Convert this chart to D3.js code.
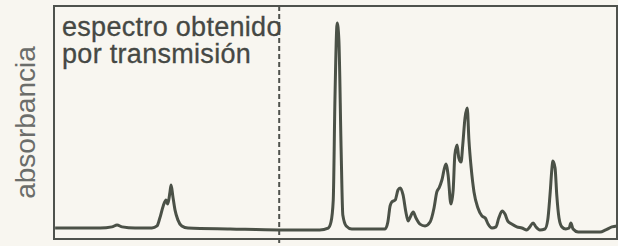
<!DOCTYPE html>
<html>
<head>
<meta charset="utf-8">
<script src="https://cdn.jsdelivr.net/npm/d3@7"></script>
<style>
  html, body { margin: 0; padding: 0; background: #f8f6f0; }
  svg { display: block; }
</style>
</head>
<body>
<div id="chart"></div>
<script>
// relative position along the spectrum (0-100) and absorbance (%)
var position = [0.2, 8.2, 10.3, 11.2, 12.1, 14.4, 17.4, 18.3, 18.8, 19.4,
  19.9, 20.2, 20.6, 20.8, 21.1, 21.5, 22.0, 22.7, 23.8, 31.3,
  40.1, 47.2, 48.7, 49.2, 49.6, 49.9, 50.3, 50.6, 51.0, 51.3,
  51.9, 52.9, 58.8, 59.3, 59.7, 60.0, 60.6, 61.1, 61.5, 62.0,
  62.5, 62.9, 63.2, 63.8, 64.3, 65.0, 65.9, 66.8, 67.5, 68.0,
  68.4, 68.9, 69.6, 70.0, 70.5, 70.9, 71.2, 71.6, 71.9, 72.3,
  72.6, 73.0, 73.4, 73.7, 74.1, 74.6, 75.3, 76.0, 76.6, 77.1,
  77.8, 78.5, 79.0, 79.6, 80.1, 80.6, 81.3, 82.2, 83.1, 84.0,
  84.5, 85.1, 85.6, 86.3, 87.2, 87.7, 88.1, 88.5, 88.6, 89.0,
  89.3, 89.7, 90.2, 90.9, 91.5, 91.8, 92.2, 93.1, 97.0, 98.0,
  99.1, 100];

var absorbance = [4.7, 4.7, 5.2, 6.0, 5.2, 4.7, 4.7, 5.6, 9.0, 14.2,
  16.7, 15.0, 20.2, 23.2, 18.5, 12.4, 8.2, 5.6, 4.7, 4.3,
  3.9, 3.9, 4.7, 7.3, 16.7, 59.7, 92.7, 85.4, 38.2, 10.3,
  5.6, 4.3, 4.3, 7.3, 14.2, 15.9, 16.7, 21.0, 21.9, 18.9,
  11.6, 7.7, 9.0, 11.6, 9.0, 6.4, 5.6, 7.3, 13.3, 20.2,
  21.9, 25.3, 32.2, 27.5, 15.0, 21.0, 36.1, 40.3, 34.8, 33.0,
  40.3, 51.9, 56.2, 42.5, 30.5, 20.2, 13.3, 9.9, 9.0, 6.4,
  4.7, 5.2, 9.0, 12.0, 10.7, 7.7, 6.4, 5.2, 4.7, 3.9,
  5.2, 6.9, 5.2, 3.9, 4.3, 8.2, 18.9, 31.8, 33.5, 30.5,
  18.9, 9.0, 5.2, 4.3, 4.7, 6.9, 4.3, 3.0, 3.0, 3.9,
  5.2, 5.6];

var transmissionLimit = 40.0;
var labelLines = ["espectro obtenido", "por transmisión"];
var yLabel = "absorbancia";

var width = 618, height = 246;
var margin = {top: 6, right: 1, bottom: 7, left: 54};

var svg = d3.select("#chart").append("svg")
  .attr("width", width)
  .attr("height", height);

var x = d3.scaleLinear().domain([0, 100]).range([margin.left, width - margin.right]);
var y = d3.scaleLinear().domain([0, 100]).range([height - margin.bottom, margin.top]);

var points = d3.zip(position, absorbance);

// frame
svg.append("rect")
  .attr("x", x(0))
  .attr("y", y(100))
  .attr("width", x(100) - x(0))
  .attr("height", y(0) - y(100))
  .style("fill", "none")
  .style("stroke", "#4f524d")
  .style("stroke-width", 2);

// dashed separator
svg.append("line")
  .attr("x1", x(transmissionLimit)).attr("x2", x(transmissionLimit))
  .attr("y1", y(100)).attr("y2", y(0) + 6)
  .style("stroke", "#4f524d")
  .style("stroke-width", 2)
  .style("stroke-dasharray", "5,3");

// spectrum
var line = d3.line()
  .x(function(d) { return x(d[0]); })
  .y(function(d) { return y(d[1]); })
  .curve(d3.curveMonotoneX);

svg.append("path")
  .datum(points)
  .attr("d", line)
  .style("fill", "none")
  .style("stroke", "#4b5147")
  .style("stroke-width", 3)
  .style("stroke-linejoin", "round");

// label
svg.append("g").selectAll("text")
  .data(labelLines)
  .enter()
  .append("text")
  .attr("x", x(0) + 8)
  .attr("y", function(d, i) { return 36 + i * 27; })
  .style("font-family", "'Liberation Sans', Arial, sans-serif")
  .style("font-size", "27px")
  .style("letter-spacing", "0.3px")
  .style("fill", "#454844")
  .style("stroke", "#454844")
  .style("stroke-width", 0.3)
  .text(function(d) { return d; });

svg.append("text")
  .attr("transform", "translate(35," + y(50) + ") rotate(-90)")
  .attr("text-anchor", "middle")
  .style("font-family", "'Liberation Sans', Arial, sans-serif")
  .style("font-size", "28px")
  .style("fill", "#6b6d6a")
  .text(yLabel);
</script>
</body>
</html>
